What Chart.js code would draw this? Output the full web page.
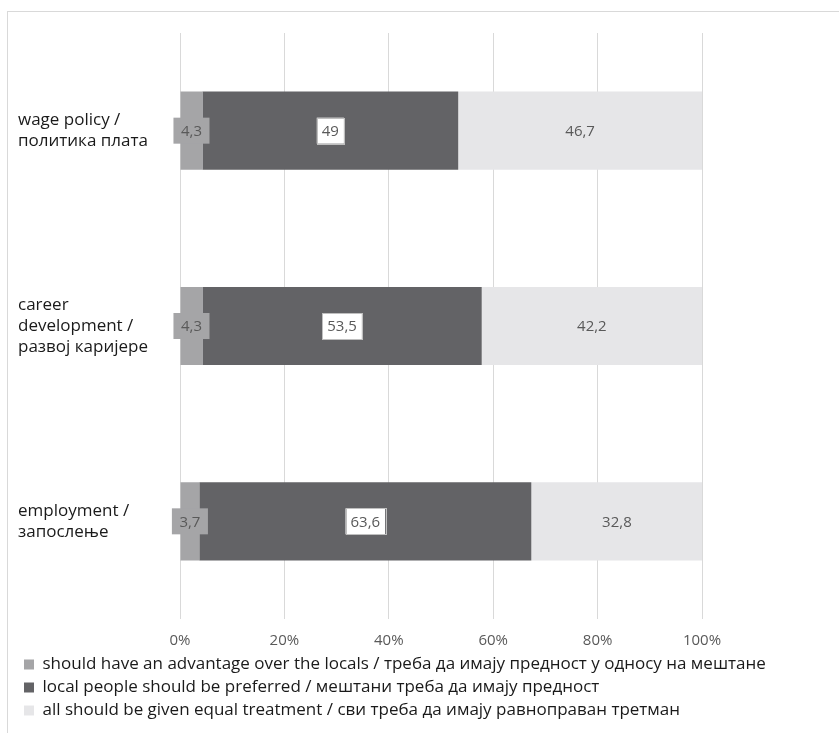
<!DOCTYPE html>
<html>
<head>
<meta charset="utf-8">
<script src="https://cdn.jsdelivr.net/npm/chart.js@4.4.0/dist/chart.umd.min.js"></script>
<style>
  html, body { margin: 0; padding: 0; background: #fff; }
  #frame { position: absolute; left: 7px; top: 11px; width: 860px; height: 760px; border: 1px solid #d9d9d9; }
  #wrap { position: absolute; left: 0; top: 0; width: 839px; height: 733px; }
</style>
</head>
<body>
<div id="frame"></div>
<div id="wrap"><canvas id="chart"></canvas></div>
<script>
// categories (top to bottom)
var categories = [
    ['wage policy /', 'политика плата'],
    ['career', 'development /', 'развој каријере'],
    ['employment /', 'запослење']
];
var seriesNames = [
    'should have an advantage over the locals / треба да имају предност у односу на мештане',
    'local people should be preferred / мештани треба да имају предност',
    'all should be given equal treatment / сви треба да имају равноправан третман'
];
var advantage = [4.3, 4.3, 3.7];
var localsPreferred = [49, 53.5, 63.6];
var equalTreatment = [46.7, 42.2, 32.8];
var xTicks = [0, 20, 40, 60, 80, 100];

var colors = ['#a5a5a7', '#636366', '#e6e6e8'];
var fontFamily = '"Open Sans", "Noto Sans", sans-serif';

// draws the value boxes on each segment
var valueLabels = {
    id: 'valueLabels',
    afterDatasetsDraw: function(chart) {
        var ctx = chart.ctx;
        ctx.save();
        ctx.font = '15px ' + fontFamily;
        ctx.textAlign = 'center';
        ctx.textBaseline = 'middle';
        chart.data.datasets.forEach(function(ds, i) {
            var meta = chart.getDatasetMeta(i);
            meta.data.forEach(function(bar, j) {
                var txt = String(ds.data[j]).replace('.', ',');
                var cx = (bar.x + bar.base) / 2;
                var cy = bar.y;
                var h = 26;
                var w;
                if (i === 0) {
                    w = ctx.measureText(txt).width + 15;
                    ctx.fillStyle = colors[0];
                    ctx.fillRect(cx - w / 2, cy - h / 2, w, h);
                } else if (i === 1) {
                    w = ctx.measureText(txt).width + 10;
                    ctx.fillStyle = '#ffffff';
                    ctx.fillRect(cx - w / 2, cy - h / 2, w, h);
                    ctx.strokeStyle = '#bfbfbf';
                    ctx.lineWidth = 1;
                    ctx.strokeRect(Math.round(cx - w / 2) + 0.5, Math.round(cy - h / 2) + 0.5, Math.round(w), h);
                }
                ctx.fillStyle = '#595959';
                ctx.fillText(txt, cx, cy + 1);
            });
        });
        ctx.restore();
    }
};

new Chart(document.getElementById('chart'), {
    type: 'bar',
    data: {
        labels: categories,
        datasets: [
            { label: seriesNames[0], data: advantage, backgroundColor: colors[0] },
            { label: seriesNames[1], data: localsPreferred, backgroundColor: colors[1] },
            { label: seriesNames[2], data: equalTreatment, backgroundColor: colors[2] }
        ]
    },
    options: {
        indexAxis: 'y',
        responsive: true,
        maintainAspectRatio: false,
        animation: false,
        datasets: { bar: { categoryPercentage: 0.8, barPercentage: 0.5 } },
        layout: { padding: { left: 18, top: 33, right: 10, bottom: 4 } },
        scales: {
            x: {
                stacked: true,
                min: 0,
                max: 100,
                afterBuildTicks: function(scale) {
                    scale.ticks = xTicks.map(function(v) { return { value: v }; });
                },
                afterFit: function(scale) { scale.height = 31; },
                ticks: {
                    color: '#595959',
                    font: { family: fontFamily, size: 15, lineHeight: 1.2 },
                    padding: 13,
                    callback: function(v) { return v + '%'; }
                },
                grid: { color: '#d9d9d9', drawTicks: false },
                border: { display: false }
            },
            y: {
                stacked: true,
                afterFit: function(scale) {
                    scale.width = 162;
                    scale.paddingTop = 0;
                    scale.paddingBottom = 0;
                },
                ticks: {
                    crossAlign: 'far',
                    color: '#1a1a1a',
                    font: { family: fontFamily, size: 17, lineHeight: 1.25 }
                },
                grid: { display: false },
                border: { display: false }
            },
            // empty right-hand axis, only keeps room right of the plot
            yRight: {
                type: 'category',
                position: 'right',
                afterFit: function(scale) {
                    scale.width = 127;
                    scale.paddingTop = 0;
                    scale.paddingBottom = 0;
                },
                ticks: { display: false },
                grid: { display: false },
                border: { display: false }
            }
        },
        plugins: {
            legend: {
                position: 'bottom',
                align: 'start',
                labels: {
                    color: '#1a1a1a',
                    boxWidth: 10,
                    boxHeight: 10,
                    padding: 6,
                    font: { family: fontFamily, size: 17 }
                }
            },
            tooltip: { enabled: false }
        }
    },
    plugins: [valueLabels]
});
</script>
</body>
</html>
